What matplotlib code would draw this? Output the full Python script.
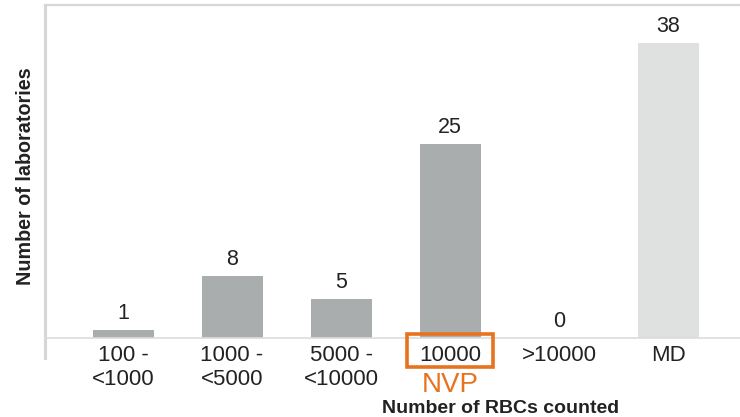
import matplotlib
matplotlib.use("Agg")
import matplotlib.pyplot as plt
from matplotlib.patches import Rectangle
from matplotlib.transforms import blended_transform_factory

plt.rcParams['font.family'] = ['Liberation Sans', 'DejaVu Sans']

categories = ["100 -\n<1000", "1000 -\n<5000", "5000 -\n<10000", "10000", ">10000", "MD"]
counts = [1, 8, 5, 25, 0, 38]
bar_colors = ["#a9adad", "#a9adad", "#a9adad", "#a9adad", "#a9adad", "#dfe1e0"]
highlight_index = 3
highlight_note = "NVP"
orange = "#e8731e"
text_color = "#222222"
line_color = "#d6d6d6"

fig = plt.figure(figsize=(7.40, 4.17), dpi=100)
ax = fig.add_axes([45 / 740, (417 - 338) / 417, 1 - 45 / 740, (338 - 5) / 417])

x = list(range(len(categories)))
ax.bar(x, counts, width=0.56, color=bar_colors, zorder=2)

for xi, v in zip(x, counts):
    ax.annotate(str(v), (xi, v), xytext=(0, 4.5), textcoords="offset points",
                ha="center", va="bottom", fontsize=15.5, color=text_color)

ax.set_xlim(-0.716, 5.66)
ax.set_ylim(0, 42.9)

ax.spines["right"].set_visible(False)
ax.spines["top"].set_color(line_color)
ax.spines["top"].set_linewidth(1.6)
ax.spines["bottom"].set_color("#dcdcdc")
ax.spines["bottom"].set_linewidth(1.2)
ax.spines["left"].set_color(line_color)
ax.spines["left"].set_linewidth(2.2)
ax.spines["left"].set_bounds(-2.58, 42.9)

ax.set_yticks([])
ax.set_xticks(x)
ax.set_xticklabels(categories, fontsize=16, color=text_color, linespacing=1.22)
ax.tick_params(axis="x", length=0, pad=5)

# orange frame around the highlighted category label
trans = blended_transform_factory(ax.transData, ax.transAxes)
frame_w = 0.79
ax.add_patch(Rectangle((highlight_index - frame_w / 2, -0.088), frame_w, 0.1,
                       transform=trans, fill=False, edgecolor=orange,
                       linewidth=2.6, clip_on=False, zorder=5))

ax.annotate(highlight_note, (highlight_index, 0), xycoords=("data", "axes fraction"),
            xytext=(0, -24.5), textcoords="offset points", ha="center", va="top",
            fontsize=20, color=orange)

ax.set_xlabel("Number of RBCs counted", fontsize=14, fontweight="bold",
              color=text_color)
ax.xaxis.set_label_coords(0.655, -0.187)
ax.xaxis.label.set_va("top")
ax.set_ylabel("Number of laboratories", fontsize=14.2, fontweight="bold",
              color=text_color)
ax.yaxis.set_label_coords(-0.028, 0.485)
ax.yaxis.label.set_va("center")

fig.savefig("out.png", dpi=100)
